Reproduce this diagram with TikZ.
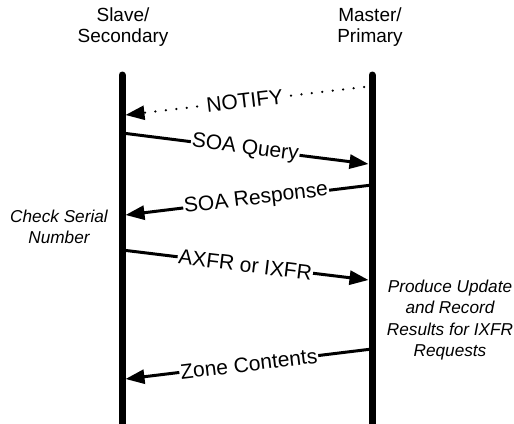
\documentclass[tikz,border=0pt]{standalone}
\usepackage{fontspec}
\setmainfont{Liberation Sans}
\usetikzlibrary{arrows.meta,positioning}

\begin{document}
\begin{tikzpicture}[
  x=1pt, y=-1pt,
  >={Triangle[length=19pt,width=14pt]},
  every node/.style={font=\fontsize{21}{25}\selectfont},
  party/.style={align=center, font=\fontsize{19}{21.5}\selectfont},
  lifeline/.style={line width=7pt, line cap=round},
  msg/.style={->, line width=3pt},
  dotmsg/.style={msg, line width=2.5pt, line cap=round, dash pattern=on 0pt off 10.5pt},
  lbl/.style={sloped, fill=white, inner sep=1pt},
  note/.style={align=center, font=\itshape\fontsize{17.2}{21.5}\selectfont}
]
\useasboundingbox (0,0) rectangle (514,423);

% parties
\node[party] (slave) at (123,27) {Slave/\\Secondary};
\node[party] (master) at (370,27) {Master/\\Primary};

% lifelines
\coordinate (slaveTop) at (122,75);  \coordinate (slaveBot) at (122,440);
\coordinate (masterTop) at (372,75); \coordinate (masterBot) at (372,440);
\draw[lifeline] (slaveTop) -- (slaveBot);
\draw[lifeline] (masterTop) -- (masterBot);

% message end points
\coordinate (notifyS) at (364,87);  \coordinate (notifyE) at (125.5,115);
\coordinate (queryS) at (122,133);  \coordinate (queryE) at (368.5,164);
\coordinate (respS) at (372,185);   \coordinate (respE) at (125.5,215);
\coordinate (xfrS) at (122,250);    \coordinate (xfrE) at (368.5,280);
\coordinate (zoneS) at (372,349);   \coordinate (zoneE) at (125.5,379);

\draw[dotmsg] (notifyS) -- node[lbl] (notify) {NOTIFY} (notifyE);
\draw[msg] (queryS) -- node[lbl] (query) {SOA Query} (queryE);
\draw[msg] (respS) -- node[lbl, pos=0.47] (resp) {SOA Response} (respE);
\draw[msg] (xfrS) -- node[lbl] (xfr) {AXFR or IXFR} (xfrE);
\draw[msg] (zoneS) -- node[lbl] (zone) {Zone Contents} (zoneE);

% notes
\node[note] (check) at (59,227) {Check Serial\\Number};
\node[note] (produce) at (450,320) {Produce Update\\and Record\\Results for IXFR\\Requests};
\end{tikzpicture}
\end{document}
